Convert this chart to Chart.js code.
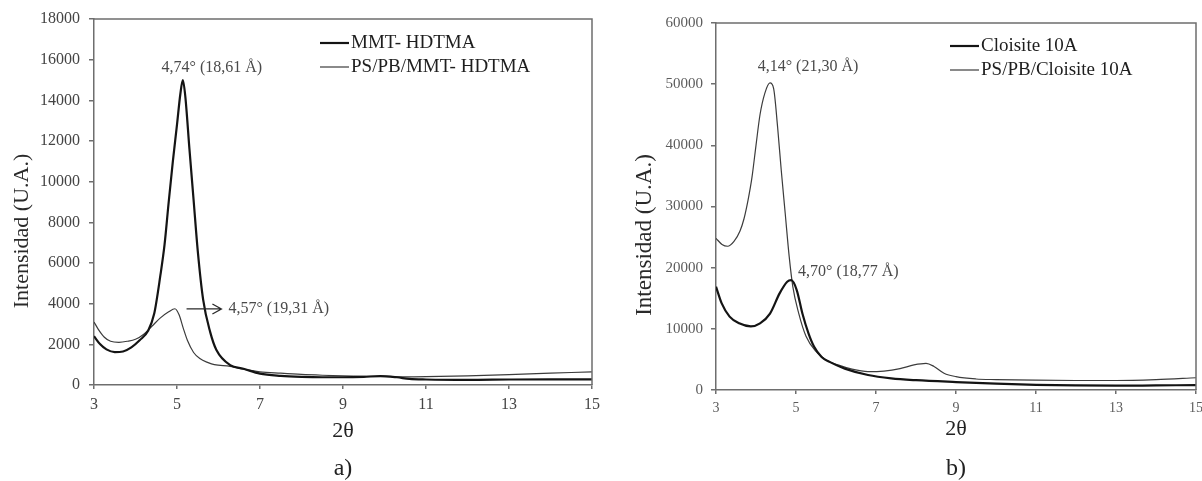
<!DOCTYPE html>
<html>
<head>
<meta charset="utf-8">
<script src="https://cdn.jsdelivr.net/npm/chart.js@4/dist/chart.umd.min.js"></script>
<style>
  body { margin: 0; background: #fff; }
  .panel { position: absolute; top: 0; height: 481px; }
  #panelA { left: 0; width: 600px; }
  #panelB { left: 600px; width: 602px; }
</style>
</head>
<body>
<div class="panel" id="panelA"><canvas id="chA"></canvas></div>
<div class="panel" id="panelB"><canvas id="chB"></canvas></div>
<script>
// a) MMT-HDTMA and its PS/PB nanocomposite
var mmtX = [3, 3.15, 3.3, 3.5, 3.7, 3.9, 4.1, 4.3, 4.45, 4.6, 4.7, 4.8, 4.9, 5.0, 5.08, 5.14, 5.2, 5.3, 5.4, 5.5, 5.63, 5.8, 5.95, 6.28, 6.6, 7.0, 7.5, 8, 8.5, 9, 9.5, 9.9, 10.3, 10.6, 11, 12, 13, 14, 15];
var mmtY = [2400, 2000, 1750, 1620, 1650, 1850, 2200, 2650, 3500, 5400, 6900, 9000, 11000, 12800, 14300, 15000, 14200, 11600, 9100, 6600, 4200, 2600, 1720, 980, 800, 560, 450, 400, 380, 380, 400, 440, 380, 300, 270, 250, 270, 280, 280];
var psMmtX = [3, 3.1, 3.25, 3.4, 3.6, 3.8, 4.0, 4.2, 4.4, 4.6, 4.8, 4.95, 5.05, 5.15, 5.25, 5.4, 5.55, 5.75, 5.9, 6.28, 6.6, 7, 7.5, 8, 8.5, 9, 9.5, 10, 10.5, 11, 12, 13, 14, 15];
var psMmtY = [3100, 2750, 2350, 2150, 2100, 2150, 2250, 2500, 2900, 3300, 3600, 3750, 3450, 2800, 2200, 1600, 1300, 1100, 1000, 920, 780, 650, 580, 520, 480, 450, 430, 420, 400, 410, 450, 510, 580, 650];

// b) Cloisite 10A and its PS/PB nanocomposite
var c10X = [3, 3.14, 3.34, 3.58, 3.87, 4.1, 4.35, 4.59, 4.78, 4.88, 5.02, 5.16, 5.31, 5.45, 5.64, 5.84, 6.22, 6.8, 7.38, 8, 9, 10, 11, 12, 13, 14, 15];
var c10Y = [16900, 14200, 12000, 10900, 10400, 10900, 12500, 15800, 17700, 17950, 16300, 12500, 9300, 7100, 5400, 4600, 3500, 2450, 1900, 1600, 1300, 1050, 850, 750, 700, 750, 800];
var psC10X = [3, 3.15, 3.29, 3.45, 3.6, 3.7, 3.8, 3.9, 4.0, 4.1, 4.22, 4.35, 4.44, 4.54, 4.63, 4.73, 4.83, 4.92, 5.07, 5.25, 5.5, 5.75, 6.05, 6.4, 6.8, 7.2, 7.6, 7.95, 8.25, 8.45, 8.7, 9.0, 9.5, 10, 11, 12, 13, 14, 15];
var psC10Y = [24800, 23800, 23500, 24300, 26000, 28000, 31000, 34800, 40000, 45000, 48500, 50200, 49300, 43000, 36000, 28900, 21800, 16900, 12500, 8800, 6300, 4900, 4100, 3400, 3000, 3100, 3500, 4100, 4350, 3850, 2750, 2180, 1800, 1700, 1600, 1550, 1550, 1700, 2000];

var xTicks = [3, 5, 7, 9, 11, 13, 15];

Chart.defaults.font.family = "'Liberation Serif', 'Times New Roman', serif";
var AXIS = '#6e6e6e';

function pts(xs, ys) {
  return xs.map(function (x, i) { return {x: x, y: ys[i]}; });
}

// frame, inline legend, peak notes, y title and panel caption
var peakNotes = {
  id: 'peakNotes',
  afterDatasetsDraw: function (chart, args, o) {
    var ctx = chart.ctx, a = chart.chartArea, sx = chart.scales.x, sy = chart.scales.y;
    ctx.save();
    ctx.strokeStyle = AXIS;
    ctx.lineWidth = 1.5;
    ctx.beginPath();
    ctx.moveTo(a.left, a.top);
    ctx.lineTo(a.right, a.top);
    ctx.lineTo(a.right, a.bottom);
    ctx.stroke();

    // legend
    ctx.font = o.legendSize + "px 'Liberation Serif'";
    ctx.textBaseline = 'middle';
    ctx.textAlign = 'left';
    chart.data.datasets.forEach(function (ds, i) {
      var lx = a.left + o.legendX, ly = a.top + o.legendY + i * 24;
      ctx.strokeStyle = ds.borderColor;
      ctx.lineWidth = ds.borderWidth;
      ctx.beginPath();
      ctx.moveTo(lx, ly);
      ctx.lineTo(lx + 29, ly);
      ctx.stroke();
      ctx.fillStyle = '#1e1e1e';
      ctx.fillText(ds.label, lx + 31, ly);
    });

    // peak notes
    ctx.font = o.noteSize + "px 'Liberation Serif'";
    ctx.fillStyle = '#4a4a4a';
    o.notes.forEach(function (n) {
      var px = sx.getPixelForValue(n.x), py = sy.getPixelForValue(n.y);
      if (n.arrowTo !== undefined) {
        var ex = sx.getPixelForValue(n.arrowTo);
        ctx.strokeStyle = '#2a2a2a';
        ctx.lineWidth = 1.3;
        ctx.beginPath();
        ctx.moveTo(px, py);
        ctx.lineTo(ex, py);
        ctx.moveTo(ex - 9, py - 5);
        ctx.lineTo(ex, py);
        ctx.lineTo(ex - 9, py + 5);
        ctx.stroke();
        ctx.textAlign = 'left';
        ctx.fillText(n.text, ex + 7, py);
      } else {
        ctx.textAlign = n.align;
        ctx.fillText(n.text, px, py);
      }
    });

    // panel caption under the x title
    ctx.textAlign = 'center';
    ctx.fillStyle = '#222';
    ctx.font = "24px 'Liberation Serif'";
    ctx.fillText(o.caption, (a.left + a.right) / 2, 469);

    // y axis title
    ctx.translate(o.yTitleX, o.yTitleY);
    ctx.rotate(-Math.PI / 2);
    ctx.fillStyle = '#2a2a2a';
    ctx.font = o.yTitleSize + "px 'Liberation Serif'";
    ctx.fillText('Intensidad (U.A.)', 0, 0);
    ctx.restore();
  }
};

function makeChart(id, cfg) {
  return new Chart(document.getElementById(id), {
    type: 'line',
    data: {
      datasets: [{
        label: cfg.names[0],
        data: pts(cfg.xs[0], cfg.ys[0]),
        borderColor: '#141414',
        borderWidth: 2.2,
        pointRadius: 0,
        cubicInterpolationMode: 'monotone'
      }, {
        label: cfg.names[1],
        data: pts(cfg.xs[1], cfg.ys[1]),
        borderColor: '#3c3c3c',
        borderWidth: 1.2,
        pointRadius: 0,
        cubicInterpolationMode: 'monotone'
      }]
    },
    options: {
      responsive: true,
      maintainAspectRatio: false,
      animation: false,
      layout: {padding: {top: cfg.padTop, right: cfg.padRight, left: 0, bottom: 0}},
      scales: {
        x: {
          type: 'linear', min: 3, max: 15,
          afterBuildTicks: function (s) { s.ticks = xTicks.map(function (v) { return {value: v}; }); },
          ticks: {font: {size: cfg.xTickSize}, color: cfg.tickColor, padding: 6, maxRotation: 0},
          grid: {drawOnChartArea: false, tickLength: 4, color: AXIS, lineWidth: 1.5},
          border: {color: AXIS, width: 1.5},
          title: {display: true, text: '2θ', font: {size: 22}, color: '#222', padding: {top: 0, bottom: cfg.xTitlePad}},
          afterFit: function (s) { s.height = cfg.xHeight; s.paddingLeft = 0; s.paddingRight = 0; }
        },
        y: {
          min: 0, max: cfg.yMax,
          ticks: {stepSize: cfg.yStep, font: {size: cfg.yTickSize}, color: cfg.tickColor, padding: cfg.yPad,
            callback: function (v) { return String(v); }},
          grid: {drawOnChartArea: false, tickLength: 5, color: AXIS, lineWidth: 1.5},
          border: {color: AXIS, width: 1.5},
          afterFit: function (s) { s.width = cfg.yWidth; s.paddingTop = 0; s.paddingBottom = 0; }
        }
      },
      plugins: {
        legend: {display: false},
        tooltip: {enabled: false},
        peakNotes: cfg.notes
      }
    },
    plugins: [peakNotes]
  });
}

makeChart('chA', {
  names: ['MMT- HDTMA', 'PS/PB/MMT- HDTMA'],
  xs: [mmtX, psMmtX], ys: [mmtY, psMmtY],
  yMax: 18000, yStep: 2000,
  padTop: 19, padRight: 8, yWidth: 94, xHeight: 96, xTitlePad: 37,
  xTickSize: 16, yTickSize: 16, tickColor: '#444', yPad: 9,
  notes: {
    caption: 'a)',
    legendX: 226, legendY: 24, legendSize: 19, noteSize: 16,
    yTitleX: 22, yTitleY: 231, yTitleSize: 22,
    notes: [
      {text: '4,74° (18,61 Å)', x: 5.84, y: 15590, align: 'center'},
      {text: '4,57° (19,31 Å)', x: 5.23, y: 3740, arrowTo: 6.07}
    ]
  }
});

makeChart('chB', {
  names: ['Cloisite 10A', 'PS/PB/Cloisite 10A'],
  xs: [c10X, psC10X], ys: [c10Y, psC10Y],
  yMax: 60000, yStep: 10000,
  padTop: 23, padRight: 6, yWidth: 116, xHeight: 91, xTitlePad: 39,
  xTickSize: 14, yTickSize: 15, tickColor: '#5c5c5c', yPad: 8,
  notes: {
    caption: 'b)',
    legendX: 234, legendY: 23, legendSize: 19, noteSize: 16,
    yTitleX: 45, yTitleY: 235, yTitleSize: 23,
    notes: [
      {text: '4,14° (21,30 Å)', x: 5.3, y: 52780, align: 'center'},
      {text: '4,70° (18,77 Å)', x: 5.05, y: 19280, align: 'left'}
    ]
  }
});
</script>
</body>
</html>
